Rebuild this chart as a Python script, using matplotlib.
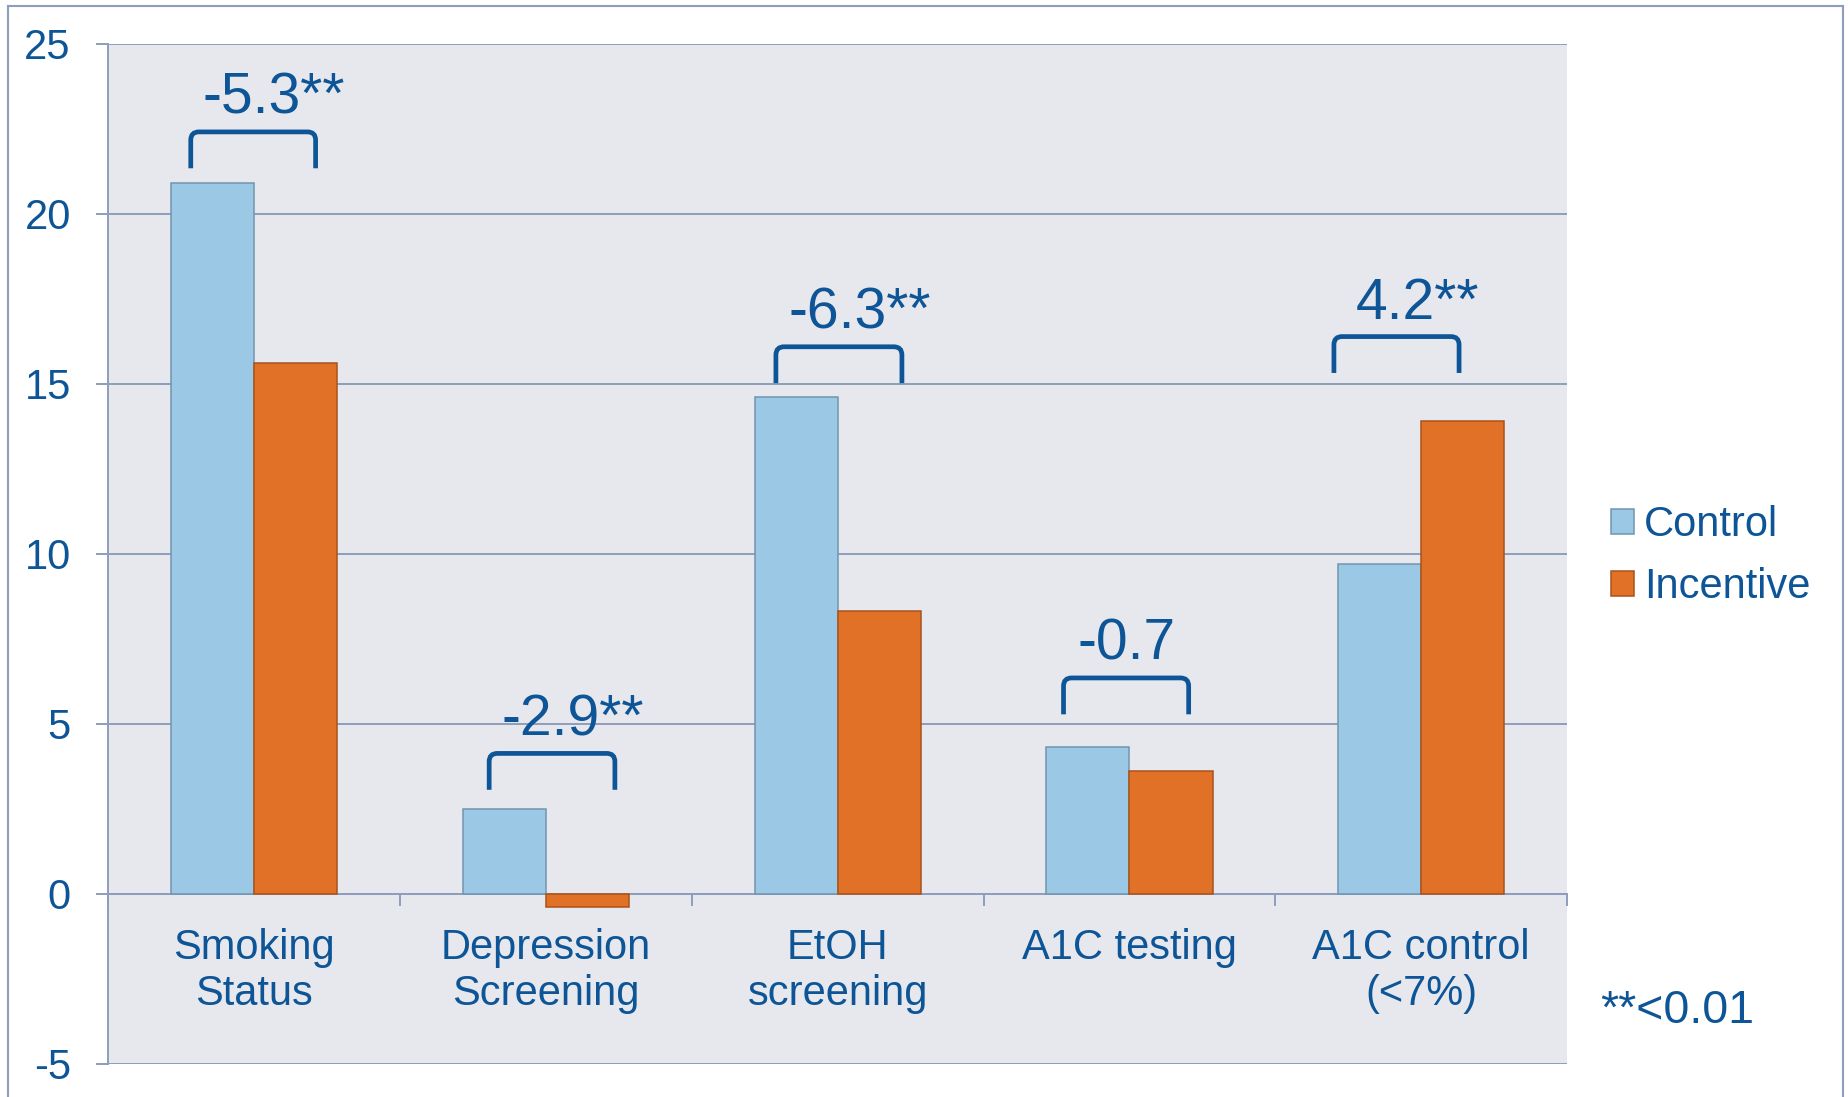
import matplotlib.pyplot as plt
from matplotlib.patches import Patch, PathPatch
from matplotlib.path import Path
from matplotlib.lines import Line2D
import numpy as np

plt.rcParams["font.family"] = ["Liberation Sans", "DejaVu Sans"]
plt.rcParams["axes.unicode_minus"] = False

categories = ["Smoking\nStatus", "Depression\nScreening", "EtOH\nscreening",
              "A1C testing", "A1C control\n(<7%)"]
control = [20.9, 2.5, 14.6, 4.3, 9.7]
incentive = [15.6, -0.4, 8.3, 3.6, 13.9]
diff_labels = ["-5.3**", "-2.9**", "-6.3**", "-0.7", "4.2**"]

# bracket geometry per category: left/right leg offsets and top height
br_left = [-0.218, -0.195, -0.212, -0.226, -0.299]
br_right = [0.210, 0.236, 0.220, 0.203, 0.130]
br_top = [22.4, 4.12, 16.08, 6.34, 16.38]
br_depth = 1.07

BLUE = "#0D5596"
GRID = "#8E9DBB"
BG = "#E7E8EE"

fig = plt.figure(figsize=(18.49, 10.97), dpi=100)
ax = fig.add_axes([108.5 / 1849, 1 - 1063.5 / 1097, (1567 - 108.5) / 1849, 1020 / 1097])
ax.set_facecolor(BG)

x = np.arange(len(categories))
w = 0.285
ax.bar(x - w / 2, control, w, color="#9BC8E4", edgecolor="#7095B1", linewidth=1.1,
       label="Control", zorder=3)
ax.bar(x + w / 2, incentive, w, color="#E07126", edgecolor="#A8521B", linewidth=1.1,
       label="Incentive", zorder=3)

# significance brackets with rounded corners
rx, ry = 0.028, 0.24
for i in range(len(categories)):
    x0, x1 = i + br_left[i], i + br_right[i]
    top, bot = br_top[i], br_top[i] - br_depth
    verts = [(x0, bot), (x0, top - ry), (x0, top), (x0 + rx, top),
             (x1 - rx, top), (x1, top), (x1, top - ry), (x1, bot)]
    codes = [Path.MOVETO, Path.LINETO, Path.CURVE3, Path.CURVE3,
             Path.LINETO, Path.CURVE3, Path.CURVE3, Path.LINETO]
    ax.add_patch(PathPatch(Path(verts, codes), fill=False, edgecolor=BLUE,
                           linewidth=3.4, capstyle="butt", zorder=4))
    dx = 15 if diff_labels[i].endswith("**") else 0
    ax.annotate(diff_labels[i], xy=((x0 + x1) / 2, top), xytext=(dx, 13),
                textcoords="offset points", ha="center", va="baseline",
                fontsize=41, color=BLUE, zorder=5)

ax.set_xlim(-0.5, len(categories) - 0.5)
ax.set_ylim(-5, 25)
ax.set_yticks(range(-5, 26, 5))
ax.yaxis.grid(True, color=GRID, linewidth=1.4)
ax.set_axisbelow(True)
ax.tick_params(axis="y", direction="out", length=8.6, width=1.4, color=GRID,
               pad=18.5, labelsize=30, labelcolor=BLUE)

ax.set_xticks(x)
ax.set_xticklabels(categories, linespacing=1.42)
ax.set_xticks(np.arange(-0.5, len(categories)), minor=True)
ax.tick_params(axis="x", which="major", length=0, pad=25, labelsize=30, labelcolor=BLUE)
ax.tick_params(axis="x", which="minor", direction="out", length=8.6, width=1.4, color=GRID)

for side in ["top", "right"]:
    ax.spines[side].set_visible(False)
ax.spines["left"].set_color(GRID)
ax.spines["left"].set_linewidth(1.4)
ax.spines["bottom"].set_position(("data", 0))
ax.spines["bottom"].set_color(GRID)
ax.spines["bottom"].set_linewidth(1.4)

handles = [Patch(facecolor="#9BC8E4", edgecolor="#7095B1", linewidth=1.1, label="Control"),
           Patch(facecolor="#E07126", edgecolor="#A8521B", linewidth=1.1, label="Incentive")]
fig.legend(handles=handles, loc="upper left", bbox_to_anchor=(1611 / 1849, 1 - 505 / 1097),
           frameon=False, fontsize=30, labelcolor=BLUE, handlelength=0.55,
           handleheight=0.55, handletextpad=0.25, borderpad=0, borderaxespad=0,
           labelspacing=0.535)

fig.text(1677 / 1849, 1 - 1022.7 / 1097, "**<0.01", ha="center", va="baseline",
         fontsize=33.5, color=BLUE)

# outer frame
fl, fr, ft = 8 / 1849, 1843 / 1849, 1 - 6 / 1097
for xs, ys in [([fl, fl], [-0.05, ft]), ([fl, fr], [ft, ft]), ([fr, fr], [ft, -0.05])]:
    fig.add_artist(Line2D(xs, ys, color=GRID, linewidth=1.5))

fig.savefig("out.png", dpi=100, facecolor="white")
